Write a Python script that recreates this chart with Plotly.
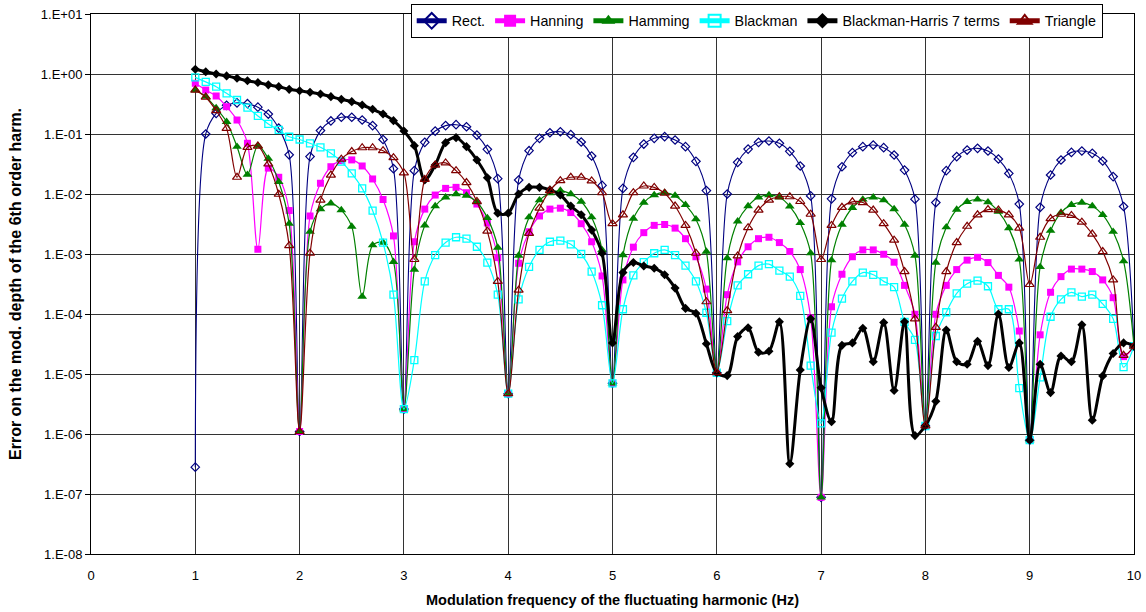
import plotly.graph_objects as go

freq = [round(1 + 0.1 * i, 1) for i in range(91)]

rect = [
    2.8e-7, 0.10, 0.22, 0.30, 0.33, 0.32, 0.28, 0.215, 0.125, 0.045,
    1.1e-6, 0.042, 0.114, 0.165, 0.19, 0.19, 0.171, 0.138, 0.081, 0.0264,
    2.6e-6, 0.0245, 0.0726, 0.112, 0.138, 0.143, 0.132, 0.096, 0.0555, 0.018,
    4.7e-6, 0.0171, 0.0527, 0.0847, 0.105, 0.109, 0.0975, 0.0736, 0.043, 0.0139,
    7.0e-6, 0.0124, 0.0408, 0.068, 0.0847, 0.0903, 0.0794, 0.0615, 0.035, 0.0114,
    1.05e-5, 0.010, 0.0337, 0.056, 0.0726, 0.0764, 0.0699, 0.0514, 0.0293, 0.0093,
    8.8e-8, 0.0083, 0.0285, 0.0489, 0.0615, 0.0656, 0.0592, 0.0447, 0.025, 0.0082,
    1.36e-6, 0.0072, 0.0245, 0.042, 0.054, 0.0577, 0.052, 0.0383, 0.022, 0.0068,
    7.9e-7, 0.006, 0.0207, 0.0369, 0.0494, 0.052, 0.0476, 0.0355, 0.0195, 0.0062,
    2.9e-5,
]

hanning = [
    0.70, 0.54, 0.43, 0.285, 0.171, 0.07, 0.0012, 0.027, 0.019, 0.0053,
    1.1e-6, 0.0043, 0.0151, 0.0285, 0.036, 0.037, 0.0293, 0.0178, 0.0081, 0.002,
    2.6e-6, 0.0016, 0.0056, 0.0096, 0.0124, 0.0129, 0.0105, 0.0068, 0.0033, 8.7e-4,
    4.7e-6, 7e-4, 0.00235, 0.0043, 0.0056, 0.0058, 0.0049, 0.0032, 0.0016, 4.3e-4,
    7.0e-6, 3.7e-4, 0.0013, 0.00227, 0.003, 0.0031, 0.0027, 0.0018, 9e-4, 2.6e-4,
    1.05e-5, 2.1e-4, 7.4e-4, 0.00132, 0.0018, 0.0019, 0.00155, 0.0011, 5.5e-4, 8.6e-5,
    8.8e-8, 1.32e-4, 4.6e-4, 9e-4, 0.00117, 0.00117, 9.9e-4, 7.3e-4, 3e-4, 9.9e-5,
    1.36e-6, 9.9e-5, 3e-4, 5.5e-4, 7.9e-4, 8.8e-4, 7.2e-4, 4.4e-4, 2.8e-4, 5.2e-5,
    7.9e-7, 4.5e-5, 2.3e-4, 4.2e-4, 5.6e-4, 5.6e-4, 5.1e-4, 3.7e-4, 1.87e-4, 1.95e-5,
    2.9e-5,
]

hamming = [
    0.54, 0.42, 0.27, 0.16, 0.0615, 0.021, 0.064, 0.039, 0.016, 0.0032,
    1.1e-6, 0.00235, 0.0056, 0.007, 0.0054, 0.00286, 1.95e-4, 0.0014, 0.00155, 7.4e-4,
    2.6e-6, 5.5e-4, 0.003, 0.0063, 0.0088, 0.010, 0.0094, 0.0073, 0.004, 0.00128,
    4.7e-6, 9.4e-4, 0.0041, 0.0079, 0.0103, 0.0114, 0.010, 0.0075, 0.0041, 0.00117,
    7.0e-6, 9.6e-4, 0.0039, 0.0072, 0.0096, 0.0105, 0.0094, 0.0066, 0.0038, 0.0011,
    1.05e-5, 8.5e-4, 0.0035, 0.0063, 0.0088, 0.0096, 0.0088, 0.0062, 0.0033, 0.00103,
    8.8e-8, 7.9e-4, 0.0031, 0.0059, 0.0081, 0.0088, 0.0079, 0.0056, 0.0031, 9.4e-4,
    1.36e-6, 7.2e-4, 0.0028, 0.0055, 0.0074, 0.0081, 0.0073, 0.0051, 0.0027, 8.1e-4,
    7.9e-7, 6.1e-4, 0.00245, 0.0049, 0.0066, 0.0072, 0.0063, 0.0045, 0.00235, 7.6e-4,
    2.9e-5,
]

blackman = [
    0.88, 0.74, 0.615, 0.476, 0.369, 0.275, 0.20, 0.147, 0.117, 0.09,
    0.081, 0.07, 0.06, 0.0476, 0.0346, 0.0221, 0.0124, 0.0053, 0.00155, 2.1e-4,
    2.6e-6, 1.7e-5, 3.5e-4, 9.6e-4, 0.00155, 0.0019, 0.0018, 0.00132, 7.2e-4, 2.1e-4,
    4.7e-6, 1.75e-4, 6.1e-4, 0.00117, 0.0016, 0.00167, 0.00145, 0.001, 5.1e-4, 1.4e-4,
    7.0e-6, 1.2e-4, 4.4e-4, 7.3e-4, 0.00103, 0.00117, 9.6e-4, 6.4e-4, 3.5e-4, 1.05e-4,
    1.05e-5, 7.6e-5, 3e-4, 4.6e-4, 6.4e-4, 6.8e-4, 5.3e-4, 4.2e-4, 2e-4, 1.38e-5,
    1.5e-6, 4.9e-5, 1.8e-4, 3.5e-4, 4.9e-4, 4.5e-4, 3.5e-4, 2.8e-4, 7.4e-5, 3.7e-5,
    1.36e-6, 4.3e-5, 1.07e-4, 2.2e-4, 3.2e-4, 3.6e-4, 2.9e-4, 1.2e-4, 1.2e-4, 5.8e-6,
    7.9e-7, 8.8e-6, 9e-5, 1.75e-4, 2.3e-4, 1.95e-4, 2.1e-4, 1.47e-4, 8.3e-5, 1.3e-5,
    2.9e-5,
]

blackman_harris = [
    1.2, 1.09, 1.0, 0.93, 0.85, 0.77, 0.72, 0.66, 0.615, 0.555,
    0.527, 0.495, 0.464, 0.419, 0.378, 0.346, 0.304, 0.258, 0.215, 0.167,
    0.112, 0.064, 0.0171, 0.0304, 0.0717, 0.087, 0.0615, 0.0369, 0.0187, 0.0048,
    0.0048, 0.010, 0.0129, 0.0129, 0.0117, 0.0096, 0.0063, 0.0045, 0.0025, 0.00103,
    3.3e-5, 4.9e-4, 7.2e-4, 6.3e-4, 5.8e-4, 4.5e-4, 2.7e-4, 1.24e-4, 1.03e-4, 3.2e-5,
    1.05e-5, 9.4e-6, 4.2e-5, 5.9e-5, 2.3e-5, 2.4e-5, 7.4e-5, 3.2e-7, 1.17e-5, 8.3e-5,
    5.9e-6, 1.6e-6, 3e-5, 3.3e-5, 5.8e-5, 1.6e-5, 7.2e-5, 5.3e-6, 7.4e-5, 9.4e-7,
    1.38e-6, 3.5e-6, 5.4e-5, 1.6e-5, 1.45e-5, 3.5e-5, 1.38e-5, 1e-4, 1.28e-5, 3.3e-5,
    7.9e-7, 1.45e-5, 4.9e-6, 2e-5, 1.6e-5, 6.6e-5, 1.7e-6, 9.3e-6, 2.2e-5, 3.3e-5,
    2.9e-5,
]

triangle = [
    0.54, 0.41, 0.245, 0.124, 0.019, 0.06, 0.063, 0.0316, 0.0099, 0.00138,
    1.1e-6, 0.00103, 0.0079, 0.0207, 0.038, 0.051, 0.059, 0.059, 0.0527, 0.0404,
    0.0225, 8.1e-4, 0.0175, 0.0304, 0.033, 0.0245, 0.0155, 0.0075, 0.0024, 3.5e-4,
    4.7e-6, 2.5e-4, 0.0022, 0.0058, 0.0114, 0.0167, 0.019, 0.019, 0.0165, 0.0105,
    0.0032, 0.0045, 0.0105, 0.0136, 0.0129, 0.0103, 0.0063, 0.003, 0.00103, 1.6e-4,
    1.05e-5, 1.14e-4, 9.3e-4, 0.00275, 0.0054, 0.0079, 0.009, 0.009, 0.0075, 0.0046,
    8.1e-4, 0.003, 0.006, 0.0074, 0.0072, 0.0054, 0.0032, 0.0017, 5.1e-4, 8.3e-5,
    1.36e-6, 6e-5, 5.1e-4, 0.00155, 0.0029, 0.0045, 0.0055, 0.0054, 0.0045, 0.0027,
    3.1e-4, 0.0019, 0.0039, 0.0046, 0.0044, 0.0034, 0.00215, 0.0011, 3.7e-4, 2.05e-5,
    2.9e-5,
]

series_names = ["Rect.", "Hanning", "Hamming", "Blackman", "Blackman-Harris 7 terms", "Triangle"]
y_tick_vals = [1e1, 1e0, 1e-1, 1e-2, 1e-3, 1e-4, 1e-5, 1e-6, 1e-7, 1e-8]
y_tick_text = ["1.E+01", "1.E+00", "1.E-01", "1.E-02", "1.E-03", "1.E-04",
               "1.E-05", "1.E-06", "1.E-07", "1.E-08"]
x_tick_vals = [0, 1, 2, 3, 4, 5, 6, 7, 8, 9, 10]

styles = [
    dict(data=rect, color="#000080", symbol="diamond-open", msize=6.5, lw=1.1, mlw=1.2),
    dict(data=hanning, color="#FF00FF", symbol="square", msize=7, lw=1.2, mlw=0),
    dict(data=hamming, color="#008000", symbol="triangle-up", msize=8.5, lw=1.2, mlw=0),
    dict(data=blackman, color="#00FFFF", symbol="square-open", msize=7, lw=1.2, mlw=1.3),
    dict(data=blackman_harris, color="#000000", symbol="diamond", msize=7, lw=3, mlw=0),
    dict(data=triangle, color="#800000", symbol="triangle-up-open", msize=8, lw=1.2, mlw=1.2),
]

fig = go.Figure()
for name, st in zip(series_names, styles):
    fig.add_trace(go.Scatter(
        x=freq, y=st["data"], name=name, mode="lines+markers",
        line=dict(color=st["color"], width=st["lw"], shape="spline", smoothing=0.9),
        marker=dict(symbol=st["symbol"], size=st["msize"], color=st["color"],
                    line=dict(color=st["color"], width=st["mlw"])),
    ))

font_family = "Liberation Sans, Arial, sans-serif"
fig.update_layout(
    width=1146, height=612,
    margin=dict(l=91, r=12, t=14, b=58, autoexpand=False),
    paper_bgcolor="white", plot_bgcolor="white",
    font=dict(family=font_family, size=13, color="black"),
    showlegend=True,
    legend=dict(
        orientation="h", x=0.970, xanchor="right", y=1.0185, yanchor="top",
        bgcolor="white", bordercolor="black", borderwidth=1,
        font=dict(size=14.3, family=font_family), itemsizing="constant",
        tracegroupgap=0,
    ),
    xaxis=dict(
        range=[0, 10], tickvals=x_tick_vals, showgrid=True, gridcolor="#333333", gridwidth=1,
        showline=True, linecolor="black", linewidth=1, mirror=True, zeroline=False,
        ticks="", tickfont=dict(size=13), ticklabelstandoff=9,
    ),
    yaxis=dict(
        type="log", range=[-8, 1], tickvals=y_tick_vals, ticktext=y_tick_text,
        showgrid=True, gridcolor="#333333", gridwidth=1,
        showline=True, linecolor="black", linewidth=1, mirror=True,
        ticks="outside", ticklen=5, tickcolor="black", tickfont=dict(size=13),
    ),
    annotations=[
        dict(text="<b>Error on the mod. depth of the 6th order harm.</b>", xref="paper", yref="paper",
             x=-0.0729, y=0.5, textangle=-90, showarrow=False, font=dict(size=16),
             xanchor="center", yanchor="middle"),
        dict(text="<b>Modulation frequency of the fluctuating harmonic (Hz)</b>", xref="paper", yref="paper",
             x=0.5, y=-0.085, showarrow=False, font=dict(size=14.5),
             xanchor="center", yanchor="middle"),
    ],
)

fig.write_html("out.html")
